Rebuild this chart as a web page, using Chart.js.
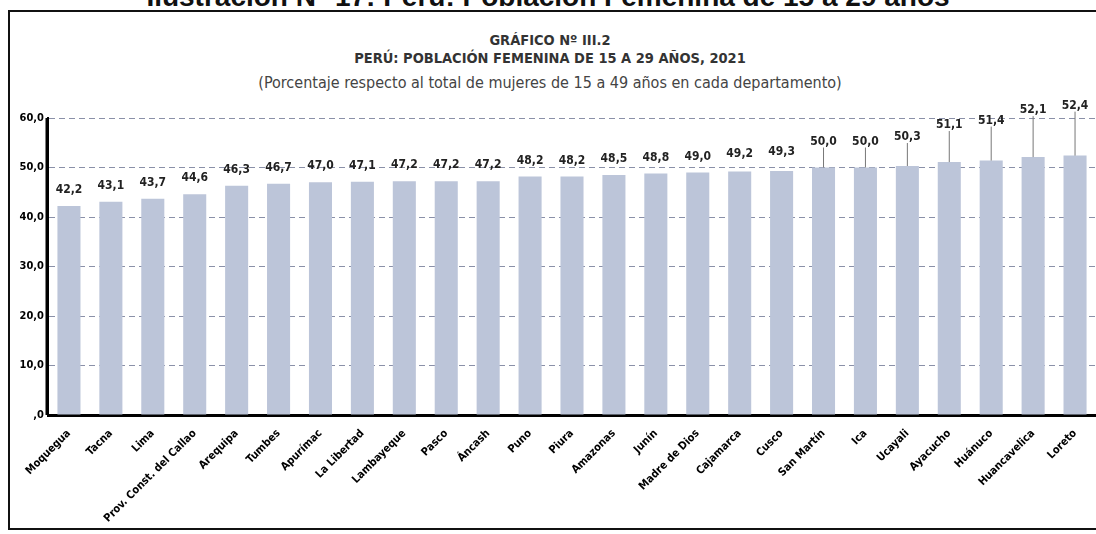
<!DOCTYPE html>
<html>
<head>
<meta charset="utf-8">
<script src="https://cdn.jsdelivr.net/npm/chart.js@4"></script>
<style>
    body { margin: 0; background: #fff; width: 1096px; height: 534px; overflow: hidden; position: relative; }
    .narrow { font-family: "Liberation Sans Narrow", "DejaVu Sans Condensed", "Liberation Sans", sans-serif; }
    #heading { position: absolute; left: 0; width: 1096px; top: -19px; line-height: 28px; text-align: center; font: bold 28px "Liberation Sans", Arial, sans-serif; color: #111; }
    #frame { position: absolute; left: 8px; top: 10px; width: 1100px; height: 516px; border: 2px solid #111; }
    .t { position: absolute; left: 0; width: 1100px; text-align: center; color: #333; }
    #t1 { top: 32px; font-weight: bold; font-size: 14.5px; }
    #t2 { top: 50px; font-weight: bold; font-size: 14.5px; }
    #t3 { top: 73px; font-size: 16px; color: #444; }
    #wrap { position: absolute; left: 0; top: 0; width: 1096px; height: 534px; }
</style>
</head>
<body>
<div id="heading">Ilustración N° 17: Perú: Población Femenina de 15 a 29 años</div>
<div id="frame"></div>
<div class="t narrow" id="t1">GRÁFICO Nº III.2</div>
<div class="t narrow" id="t2">PERÚ: POBLACIÓN FEMENINA DE 15 A 29 AÑOS, 2021</div>
<div class="t narrow" id="t3">(Porcentaje respecto al total de mujeres de 15 a 49 años en cada departamento)</div>
<div id="wrap"><canvas id="chart" width="1096" height="534"></canvas></div>
<script>
const departamentos = ['Moquegua', 'Tacna', 'Lima', 'Prov. Const. del Callao', 'Arequipa', 'Tumbes',
    'Apurímac', 'La Libertad', 'Lambayeque', 'Pasco', 'Áncash', 'Puno', 'Piura', 'Amazonas', 'Junín',
    'Madre de Dios', 'Cajamarca', 'Cusco', 'San Martín', 'Ica', 'Ucayali', 'Ayacucho', 'Huánuco',
    'Huancavelica', 'Loreto'];
const porcentajes = [42.2, 43.1, 43.7, 44.6, 46.3, 46.7, 47.0, 47.1, 47.2, 47.2, 47.2, 48.2, 48.2, 48.5,
    48.8, 49.0, 49.2, 49.3, 50.0, 50.0, 50.3, 51.1, 51.4, 52.1, 52.4];
const yTicks = [0, 10, 20, 30, 40, 50, 60];

const FONT = '"Liberation Sans Narrow", "DejaVu Sans Condensed", "Liberation Sans", sans-serif';

function fmt(v) {
    // 0 shows as ",0" like the original
    const s = v.toFixed(1).replace('.', ',');
    return v === 0 ? ',0' : s;
}

// solid left axis (the grid border gets the dash otherwise)
const leftAxis = {
    id: 'leftAxis',
    afterDraw(chart) {
        const { ctx, chartArea } = chart;
        ctx.save();
        ctx.setLineDash([]);
        ctx.strokeStyle = '#000';
        ctx.lineWidth = 3;
        ctx.beginPath();
        ctx.moveTo(chartArea.left - 1, chartArea.top);
        ctx.lineTo(chartArea.left - 1, chartArea.bottom);
        ctx.stroke();
        ctx.restore();
    }
};

// value labels, pushed up with a leader line for the taller bars
const valueLabels = {
    id: 'valueLabels',
    afterDatasetsDraw(chart) {
        const ctx = chart.ctx;
        const meta = chart.getDatasetMeta(0);
        ctx.save();
        ctx.font = 'bold 12px ' + FONT;
        ctx.textAlign = 'center';
        ctx.textBaseline = 'bottom';
        meta.data.forEach((bar, i) => {
            const v = porcentajes[i];
            const extra = Math.max(0, (v - 49) * 10);
            const y = bar.y - 8 - extra;
            if (extra > 4) {
                ctx.strokeStyle = '#777';
                ctx.lineWidth = 1;
                ctx.beginPath();
                ctx.moveTo(bar.x, bar.y);
                ctx.lineTo(bar.x, y - 2);
                ctx.stroke();
            }
            ctx.fillStyle = '#222';
            ctx.fillText(fmt(v), bar.x, y - 2);
        });
        ctx.restore();
    }
};

new Chart(document.getElementById('chart'), {
    type: 'bar',
    data: {
        labels: departamentos,
        datasets: [{
            data: porcentajes,
            backgroundColor: 'rgba(188, 197, 217, 1)',
            categoryPercentage: 1,
            barPercentage: 0.55
        }]
    },
    options: {
        responsive: false,
        animation: false,
        layout: { padding: { top: 118, right: 0, bottom: 0, left: 0 } },
        plugins: { legend: { display: false }, tooltip: { enabled: false } },
        scales: {
            x: {
                grid: { display: false },
                border: { color: '#000', width: 3 },
                ticks: {
                    color: '#000',
                    font: { family: FONT, size: 11, weight: 'bold' },
                    maxRotation: 45, minRotation: 45, autoSkip: false, padding: 4
                },
                afterFit(scale) { scale.height = 119; }
            },
            y: {
                min: 0, max: 60,
                afterBuildTicks(scale) { scale.ticks = yTicks.map(v => ({ value: v })); },
                grid: { color: '#8a90a8', lineWidth: 1, drawTicks: false },
                border: { color: '#000', width: 2, dash: [6, 4] },
                ticks: {
                    color: '#000',
                    padding: 4,
                    font: { family: FONT, size: 11, weight: 'bold' },
                    callback: v => fmt(v)
                },
                afterFit(scale) { scale.width = 48; }
            }
        }
    },
    plugins: [valueLabels, leftAxis]
});
</script>
</body>
</html>
